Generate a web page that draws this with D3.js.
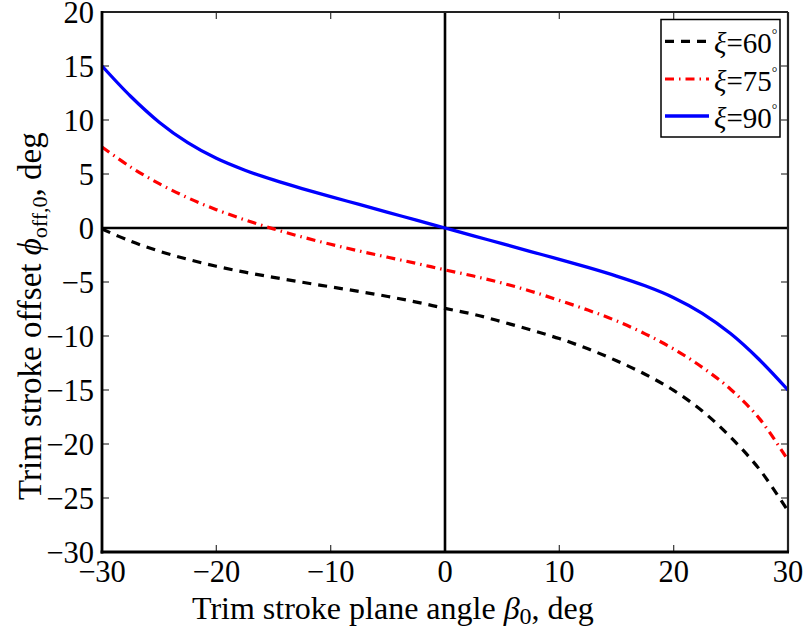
<!DOCTYPE html>
<html><head><meta charset="utf-8">
<script src="https://cdn.jsdelivr.net/npm/d3@7"></script>
<style>body{margin:0;background:#fff} svg{font-family:"Liberation Serif","Times New Roman",serif}</style>
</head><body><svg id="c" width="807" height="628"></svg>
<script>
const beta = [-30,-27.5,-25,-22.5,-20,-17.5,-15,-12.5,-10,-7.5,-5,-2.5,0,2.5,5,7.5,10,12.5,15,17.5,20,22.5,25,27.5,30];
const xi60 = [-0.1,-1.22,-2.14,-2.9,-3.54,-4.09,-4.57,-5.02,-5.45,-5.88,-6.34,-6.86,-7.44,-7.99,-8.69,-9.44,-10.24,-11.19,-12.29,-13.54,-15.04,-16.94,-19.39,-22.34,-26.2];
const xi75 = [7.5,5.65,4.1,2.8,1.7,0.75,-0.08,-0.83,-1.51,-2.13,-2.71,-3.28,-3.88,-4.45,-5.1,-5.85,-6.7,-7.6,-8.6,-9.8,-11.2,-12.9,-14.95,-17.65,-21.5];
const xi90 = [15,12.2,9.8,7.9,6.45,5.35,4.45,3.65,2.9,2.18,1.45,0.73,0,-0.73,-1.45,-2.18,-2.9,-3.65,-4.45,-5.35,-6.45,-7.9,-9.8,-12.2,-15];
const xTicks = [-30,-20,-10,0,10,20,30];
const yTicks = [20,15,10,5,0,-5,-10,-15,-20,-25,-30];
const seriesNames = ["60","75","90"];

const svg = d3.select("#c");
const L=102, R=788, T=12, B=552;
const x = d3.scaleLinear().domain([-30,30]).range([L,R]);
const y = d3.scaleLinear().domain([-30,20]).range([B,T]);
const fmt = d => (d<0?"\u2212":"")+Math.abs(d);

const styles = [
  {color:"#000", dash:"9,7", w:3.2},
  {color:"#ff0000", dash:"9,5,1.5,5", w:3.2},
  {color:"#0000ff", dash:null, w:3.3}
];
const data = [xi60, xi75, xi90];

// ticks
const g = svg.append("g");
xTicks.forEach(t=>{
  g.append("line").attr("x1",x(t)).attr("x2",x(t)).attr("y1",B).attr("y2",B-7).attr("stroke","#444").attr("stroke-width",1.3);
  g.append("line").attr("x1",x(t)).attr("x2",x(t)).attr("y1",T).attr("y2",T+7).attr("stroke","#444").attr("stroke-width",1.3);
  g.append("text").attr("x",x(t)).attr("y",582).attr("text-anchor","middle").attr("font-size",30.5).text(fmt(t));
});
yTicks.forEach(t=>{
  g.append("line").attr("x1",L).attr("x2",L+7).attr("y1",y(t)).attr("y2",y(t)).attr("stroke","#444").attr("stroke-width",1.3);
  g.append("line").attr("x1",R).attr("x2",R-7).attr("y1",y(t)).attr("y2",y(t)).attr("stroke","#444").attr("stroke-width",1.3);
  g.append("text").attr("x",94).attr("y",y(t)+11).attr("text-anchor","end").attr("font-size",30.5).text(fmt(t));
});

// zero lines
svg.append("line").attr("x1",L).attr("x2",R).attr("y1",y(0)).attr("y2",y(0)).attr("stroke","#000").attr("stroke-width",2.6);
svg.append("line").attr("x1",x(0)).attr("x2",x(0)).attr("y1",T).attr("y2",B).attr("stroke","#000").attr("stroke-width",2.6);

// curves
const line = d3.line().x((d,i)=>x(beta[i])).y(d=>y(d)).curve(d3.curveCatmullRom.alpha(0.5));
data.forEach((s,k)=>{
  svg.append("path").attr("d",line(s)).attr("fill","none").attr("stroke",styles[k].color)
    .attr("stroke-width",styles[k].w).attr("stroke-dasharray",styles[k].dash);
});

// frame
svg.append("line").attr("x1",L).attr("x2",R).attr("y1",T).attr("y2",T).attr("stroke","#222").attr("stroke-width",1.8);
svg.append("line").attr("x1",R).attr("x2",R).attr("y1",T).attr("y2",B).attr("stroke","#222").attr("stroke-width",2.2);
svg.append("line").attr("x1",L).attr("x2",L).attr("y1",T-1).attr("y2",B+1.5).attr("stroke","#000").attr("stroke-width",2.8);
svg.append("line").attr("x1",L-1.4).attr("x2",R+1).attr("y1",B).attr("y2",B).attr("stroke","#000").attr("stroke-width",2.8);

// legend
const lg = svg.append("g");
lg.append("rect").attr("x",661).attr("y",19.5).attr("width",119).attr("height",117.5).attr("fill","#fff").attr("stroke","#000").attr("stroke-width",1.5);
const ly = [41.3,79,116];
seriesNames.forEach((n,k)=>{
  lg.append("line").attr("x1",665).attr("x2",709).attr("y1",ly[k]).attr("y2",ly[k]).attr("stroke",styles[k].color)
    .attr("stroke-width",styles[k].w).attr("stroke-dasharray",styles[k].dash);
  const t = lg.append("text").attr("x",714).attr("y",ly[k]+12).attr("font-size",29);
  t.append("tspan").attr("font-style","italic").text("\u03be");
  t.append("tspan").text("="+n);
  t.append("tspan").attr("font-size",14).attr("dy",-14).text("\u00b0");
});

// axis labels
const xl = svg.append("text").attr("x",192).attr("y",619).attr("font-size",32);
xl.append("tspan").text("Trim stroke plane angle ");
xl.append("tspan").attr("font-style","italic").text("\u03b2");
xl.append("tspan").attr("font-size",24).attr("dy",5).text("0");
xl.append("tspan").attr("dy",-5).text(", deg");

const yl = svg.append("text").attr("transform","translate(41,500) rotate(-90)").attr("font-size",33);
yl.append("tspan").text("Trim stroke offset  ");
yl.append("tspan").attr("font-style","italic").text("\u03d5");
yl.append("tspan").attr("font-size",22).attr("dy",6).text("off,0");
yl.append("tspan").attr("dy",-6).text(", deg");
</script></body></html>
